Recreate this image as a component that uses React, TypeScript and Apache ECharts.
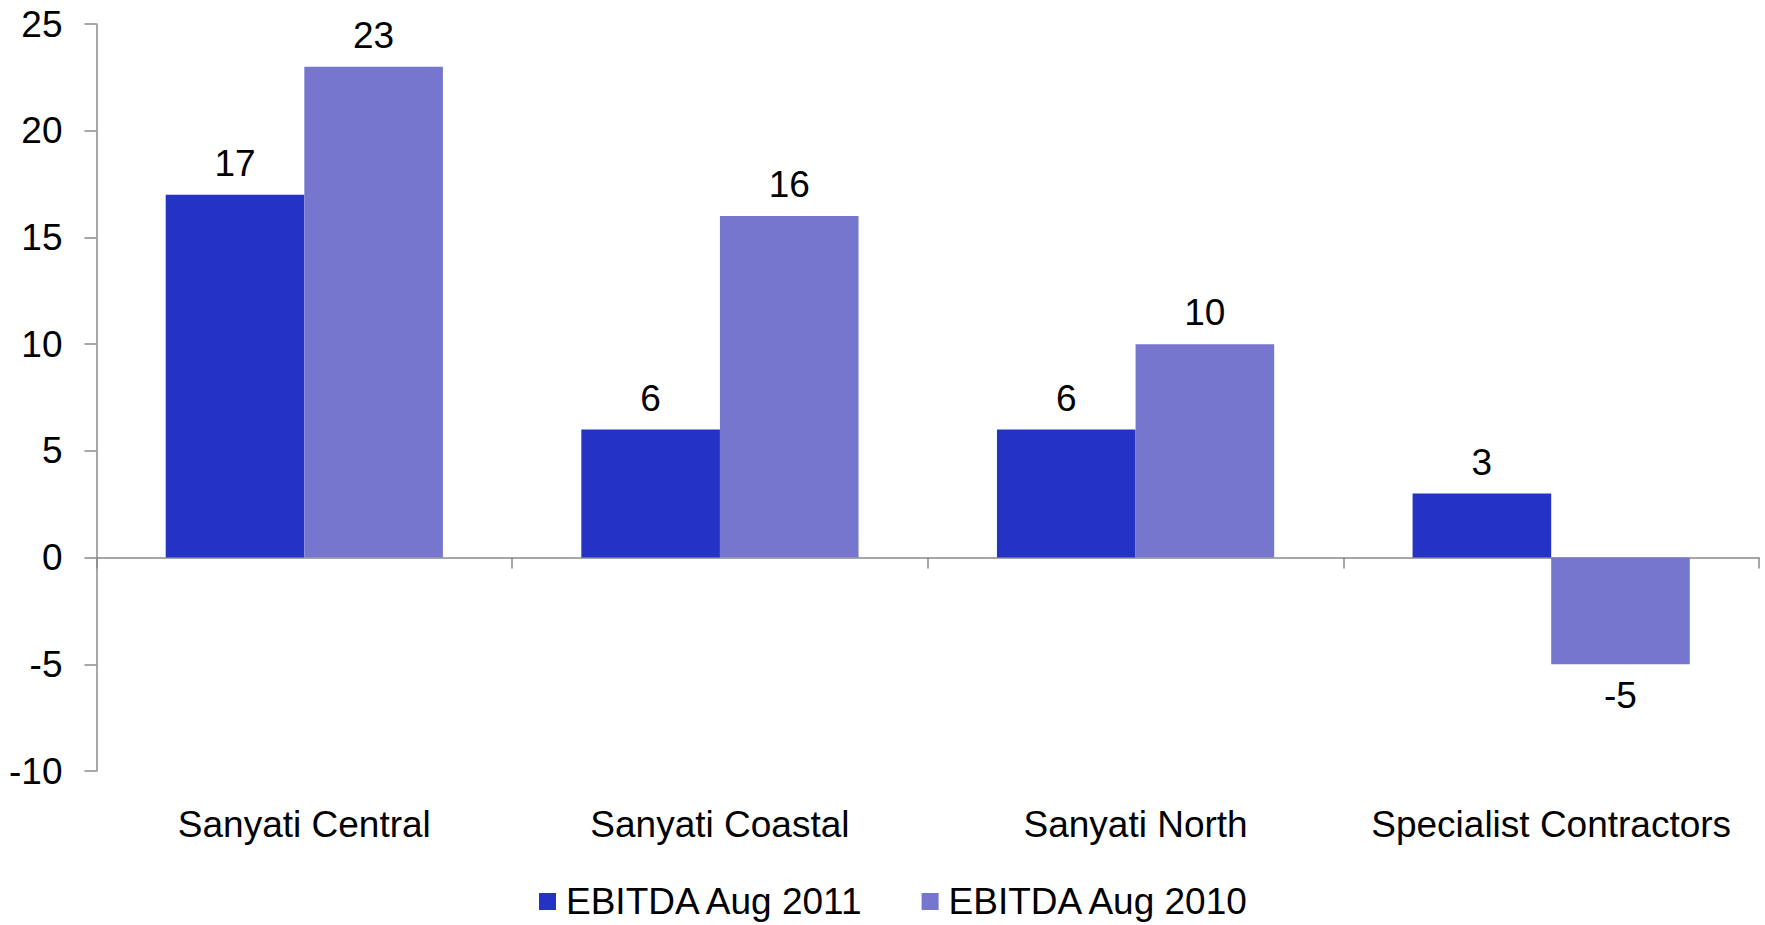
import React, { useEffect, useRef } from "react";
import * as echarts from "echarts";

const categories = ["Sanyati Central", "Sanyati Coastal", "Sanyati North", "Specialist Contractors"];
const seriesNames = ["EBITDA Aug 2011", "EBITDA Aug 2010"];
const ebitda2011 = [17, 6, 6, 3];
const ebitda2010 = [23, 16, 10, -5];
const yTicks = { min: -10, max: 25, interval: 5 };

const COLORS = ["#2433C6", "#7776CF"];
const FONT = "Liberation Sans, Arial, Helvetica, sans-serif";
const FS = 37;

function toData(values: number[]) {
  return values.map((v) => ({
    value: v,
    label: { position: v < 0 ? "bottom" : "top" },
  }));
}

export default function App() {
  const ref = useRef<HTMLDivElement>(null);

  useEffect(() => {
    if (!ref.current) return;
    const chart = echarts.init(ref.current, undefined, { renderer: "svg" });
    const axisColor = "#8a8a8a";
    const labelStyle = {
      show: true,
      color: "#000",
      fontSize: FS,
      fontFamily: FONT,
      distance: 13,
    };
    chart.setOption({
      animation: false,
      backgroundColor: "#ffffff",
      grid: { left: 96.5, right: 6, top: 24, bottom: 154, containLabel: false },
      legend: {
        data: seriesNames,
        left: 539,
        top: 883,
        padding: 0,
        icon: "rect",
        itemWidth: 17,
        itemHeight: 17,
        itemGap: 56,
        textStyle: { fontSize: FS, fontFamily: FONT, color: "#000", padding: [0, 0, 0, 5] },
      },
      xAxis: [
        {
          type: "category",
          data: categories,
          axisLine: { onZero: true, lineStyle: { color: axisColor, width: 1.5 } },
          axisTick: { show: true, length: 11, inside: false, lineStyle: { color: axisColor, width: 1.5 } },
          axisLabel: { show: false },
          splitLine: { show: false },
        },
        {
          type: "category",
          data: categories,
          position: "bottom",
          axisLine: { show: false, onZero: false },
          axisTick: { show: false },
          axisLabel: { show: true, color: "#000", fontSize: FS, fontFamily: FONT, margin: 35, interval: 0 },
          splitLine: { show: false },
        },
      ],
      yAxis: {
        type: "value",
        min: yTicks.min,
        max: yTicks.max,
        interval: yTicks.interval,
        axisLine: { show: true, lineStyle: { color: axisColor, width: 1.5 } },
        axisTick: { show: true, length: 12, inside: false, lineStyle: { color: axisColor, width: 1.5 } },
        axisLabel: { color: "#000", fontSize: FS, fontFamily: FONT, margin: 34 },
        splitLine: { show: false },
      },
      series: [
        {
          name: seriesNames[0],
          type: "bar",
          xAxisIndex: 0,
          data: toData(ebitda2011),
          itemStyle: { color: COLORS[0] },
          barGap: "0%",
          barCategoryGap: "33.3%",
          label: labelStyle,
        },
        {
          name: seriesNames[1],
          type: "bar",
          xAxisIndex: 0,
          data: toData(ebitda2010),
          itemStyle: { color: COLORS[1] },
          barGap: "0%",
          barCategoryGap: "33.3%",
          label: labelStyle,
        },
      ],
    });
    return () => chart.dispose();
  }, []);

  return (
    <div
      ref={ref}
      style={{ position: "absolute", left: 0, top: 0, width: 1765, height: 925, background: "#fff" }}
    />
  );
}
